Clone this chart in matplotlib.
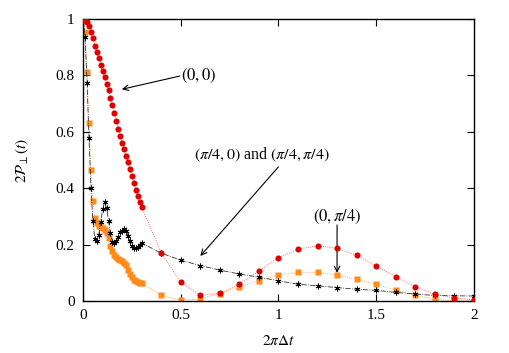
import numpy as np
import matplotlib
matplotlib.use("Agg")
import matplotlib.pyplot as plt

plt.rcParams["font.family"] = "serif"
plt.rcParams["font.serif"] = ["Liberation Serif", "DejaVu Serif"]
plt.rcParams["mathtext.fontset"] = "stix"

# dense part of the time grid (0 .. 0.3) and sparse part (0.4 .. 2.0)
t_dense = [round(0.01 * k, 2) for k in range(31)]
t_sparse = [0.4, 0.5, 0.6, 0.7, 0.8, 0.9, 1.0, 1.1, 1.2, 1.3, 1.4, 1.5,
            1.6, 1.7, 1.8, 1.9, 2.0]

# (0,0)
red_dense = [1.0, 0.993, 0.988, 0.976, 0.955, 0.932, 0.906, 0.882, 0.861, 0.837,
             0.816, 0.794, 0.771, 0.747, 0.721, 0.695, 0.666, 0.637, 0.610, 0.585,
             0.561, 0.538, 0.516, 0.493, 0.468, 0.444, 0.420, 0.395, 0.372, 0.352,
             0.332]
red_sparse = [0.172, 0.066, 0.021, 0.027, 0.060, 0.107, 0.154, 0.184, 0.196, 0.187,
              0.162, 0.125, 0.086, 0.051, 0.024, 0.012, 0.004]

# (0,pi/4)
orange_dense = [1.0, 0.953, 0.813, 0.632, 0.465, 0.355, 0.295, 0.277, 0.268, 0.263,
                0.259, 0.253, 0.243, 0.222, 0.196, 0.176, 0.163, 0.155, 0.149, 0.145,
                0.141, 0.136, 0.127, 0.112, 0.097, 0.084, 0.075, 0.070, 0.067, 0.065,
                0.064]
orange_sparse = [0.020, 0.004, 0.008, 0.026, 0.050, 0.073, 0.092, 0.102, 0.102, 0.092,
                 0.078, 0.059, 0.039, 0.021, 0.007, 0.001, 0.0]

# (pi/4,0) and (pi/4,pi/4)
black_dense = [1.0, 0.937, 0.775, 0.577, 0.402, 0.284, 0.220, 0.212, 0.235, 0.280,
               0.325, 0.352, 0.330, 0.285, 0.240, 0.210, 0.205, 0.212, 0.228, 0.245,
               0.250, 0.255, 0.248, 0.232, 0.212, 0.197, 0.190, 0.189, 0.193, 0.200,
               0.206]
black_sparse = [0.170, 0.145, 0.126, 0.110, 0.096, 0.085, 0.072, 0.060, 0.054, 0.048,
                0.042, 0.038, 0.031, 0.025, 0.020, 0.019, 0.018]

t_all = t_dense + t_sparse

fig = plt.figure(figsize=(5.1, 3.53), dpi=100)
ax = fig.add_axes([0.163, 0.147, 0.766, 0.799])

ax.plot(t_all, black_dense + black_sparse, color="#333333", lw=0.6, ls="-.",
        marker=(6, 2, 0), ms=4.2, mew=0.6, mec="black", zorder=3)
ax.plot(t_all, orange_dense + orange_sparse, color="#ff9a33", lw=0.6, ls=":",
        marker="s", ms=4.0, mec="none", mfc="#ff8c1a", zorder=2)
ax.plot(t_all, red_dense + red_sparse, color="#ee4444", lw=0.6, ls=":",
        marker="o", ms=4.4, mec="none", mfc="#e00000", zorder=4)

ax.set_xlim(0, 2)
ax.set_ylim(0, 1)
ax.set_xticks([0, 0.5, 1, 1.5, 2])
ax.set_xticklabels(["0", "0.5", "1", "1.5", "2"])
ax.set_yticks([0, 0.2, 0.4, 0.6, 0.8, 1])
ax.set_yticklabels(["0", "0.2", "0.4", "0.6", "0.8", "1"])
ax.tick_params(direction="in", top=True, right=True, length=5, width=0.8,
               labelsize=11, pad=6)
for s in ax.spines.values():
    s.set_linewidth(1.0)

ax.set_xlabel(r"$2\pi\Delta t$", fontsize=11, labelpad=8)
ax.set_ylabel(r"$2\mathcal{P}_{\perp}(t)$", fontsize=11, labelpad=18)

arrow = dict(arrowstyle="->", lw=0.8, color="black", shrinkA=0, shrinkB=0)
ax.annotate("", xy=(0.198, 0.751), xytext=(0.495, 0.798), arrowprops=arrow)
ax.text(0.5, 0.80, r"$(0,0)$", ha="left", va="center", fontsize=12)

ax.annotate("", xy=(0.6, 0.16), xytext=(1.0, 0.476), arrowprops=arrow)
ax.text(0.913, 0.52, r"$(\pi/4,0)$ and $(\pi/4,\pi/4)$", ha="center",
        va="center", fontsize=11.5)

ax.annotate("", xy=(1.3, 0.1), xytext=(1.3, 0.27), arrowprops=arrow)
ax.text(1.3, 0.30, r"$(0,\pi/4)$", ha="center", va="center", fontsize=12)

fig.savefig("out.png", dpi=100)
